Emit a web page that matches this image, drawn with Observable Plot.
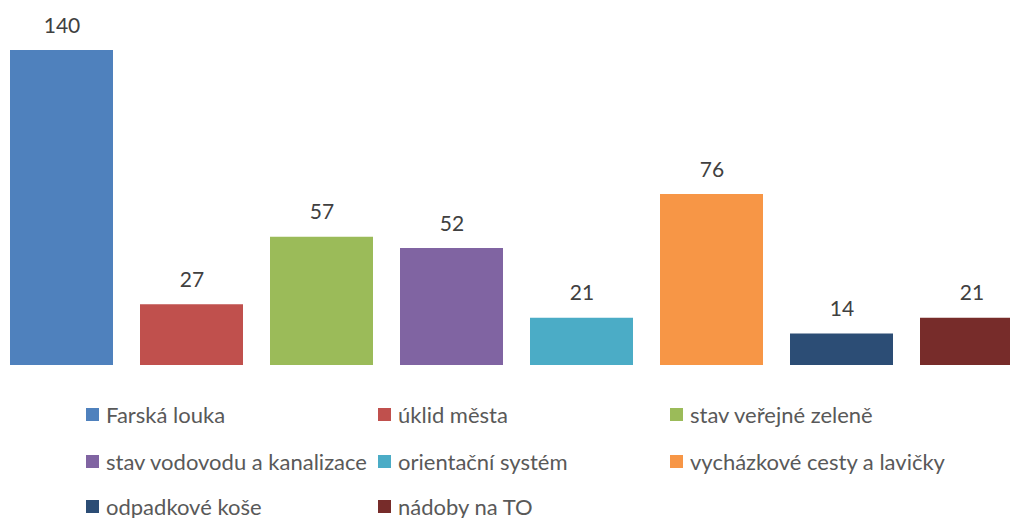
<!DOCTYPE html>
<html>
<head>
<meta charset="utf-8">
<script src="https://cdn.jsdelivr.net/npm/d3@7"></script>
<script src="https://cdn.jsdelivr.net/npm/@observablehq/plot@0.6"></script>
<style>
  html, body { margin: 0; padding: 0; background: #fff; overflow: hidden; width: 1010px; height: 518px; }
  #chart { position: absolute; left: 0; top: 0; width: 1010px; overflow: hidden; }
  #legend { position: absolute; left: 0; top: 380px; width: 1010px; height: 138px; font-family: Lato, "Open Sans", sans-serif; font-size: 22px; color: #595959; }
  .item { position: absolute; display: flex; align-items: center; white-space: nowrap; }
  .sw { width: 13px; height: 13px; margin-right: 7px; }
</style>
</head>
<body>
<div id="chart"></div>
<div id="legend"></div>
<script>
const categories = ["Farská louka", "úklid města", "stav veřejné zeleně", "stav vodovodu a kanalizace", "orientační systém", "vycházkové cesty a lavičky", "odpadkové koše", "nádoby na TO"];
const values = [140, 27, 57, 52, 21, 76, 14, 21];
const colors = ["#4F81BD", "#C0504D", "#9BBB59", "#8064A2", "#4BACC6", "#F79646", "#2C4D75", "#772C2A"];

const data = categories.map((c, i) => ({cat: c, value: values[i]}));

const chart = Plot.plot({
  width: 1010,
  height: 380,
  margin: 0,
  style: {fontFamily: "Lato, 'Open Sans', sans-serif", fontSize: "21px", background: "#fff", overflow: "hidden"},
  x: {domain: categories, range: [-3.5, 1036.5], paddingInner: 0.2077, paddingOuter: 0.1038, axis: null},
  y: {domain: [0, 140], range: [365, 50], axis: null},
  color: {domain: categories, range: colors},
  marks: [
    Plot.barY(data, {x: "cat", y: "value", fill: "cat"}),
    Plot.text(data, {x: "cat", y: "value", text: d => String(d.value), lineAnchor: "bottom", dy: -18, fill: "#404040", fontSize: 21})
  ]
});
document.getElementById("chart").appendChild(chart);

const legend = document.getElementById("legend");
const colX = [86, 378, 670];
const rowTop = [34, 81, 126];
categories.forEach((c, i) => {
  const el = document.createElement("div");
  el.className = "item";
  el.style.left = colX[i % 3] + "px";
  el.style.top = (rowTop[Math.floor(i / 3)] - 14) + "px";
  el.style.height = "28px";
  const sw = document.createElement("div");
  sw.className = "sw";
  sw.style.background = colors[i];
  const t = document.createElement("span");
  t.textContent = c;
  el.appendChild(sw);
  el.appendChild(t);
  legend.appendChild(el);
});
</script>
</body>
</html>
